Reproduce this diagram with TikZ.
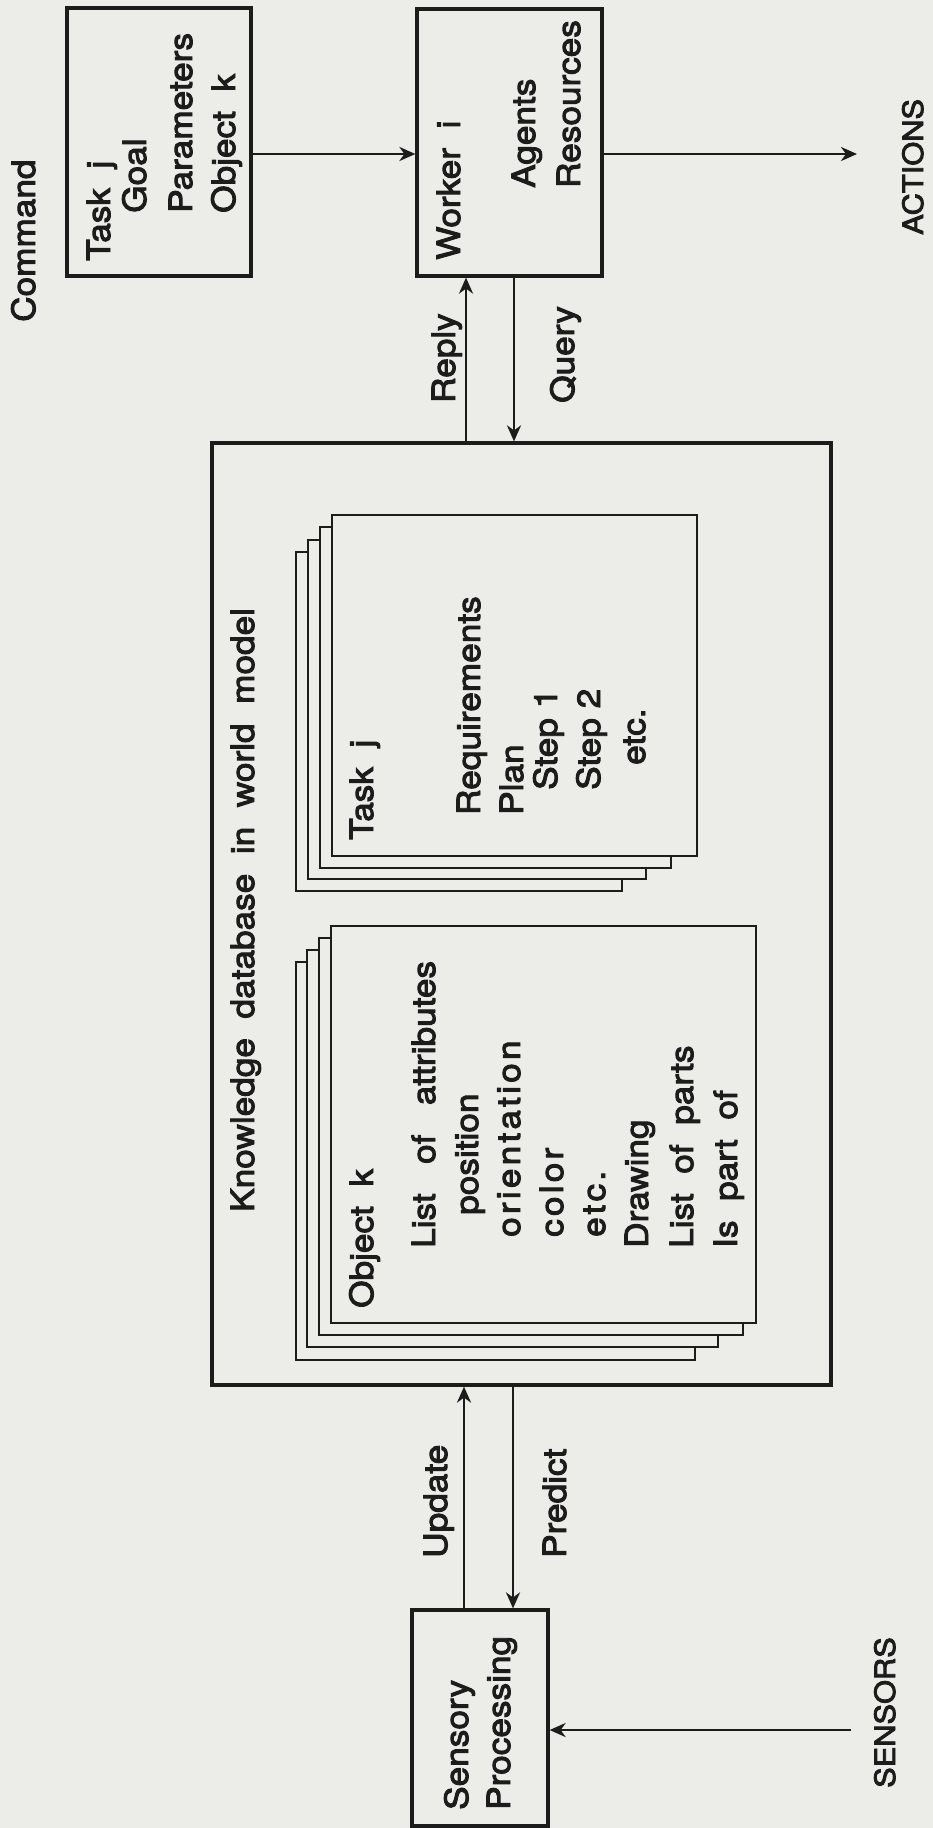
\documentclass[tikz,border=0pt]{standalone}
\usepackage{fontspec}
\setmainfont{TeX Gyre Heros}[FakeStretch=1.1, FakeBold=3]
\usepackage{tikz}
\usetikzlibrary{arrows.meta}
\definecolor{paper}{HTML}{ECECE9}
\definecolor{ink}{HTML}{1C1C1C}

\begin{document}
\begin{tikzpicture}[
  x=1pt, y=-1pt,
  box/.style={draw=ink, line width=3.2pt, fill=paper, inner sep=0pt},
  page/.style={draw=ink, line width=2.8pt, fill=paper},
  flow/.style={-{Stealth[length=16pt,width=14pt,inset=5pt]}, line width=2.6pt, draw=ink},
  txt/.style={rotate=90, anchor=base west, inner sep=0pt, text=ink, font=\fontsize{32}{38}\selectfont},
  spaced/.style={txt, font=\fontsize{32}{38}\selectfont\addfontfeature{LetterSpace=10}},
  capslab/.style={txt, font=\fontsize{28}{34}\selectfont}
]
\useasboundingbox (0,0) rectangle (933,1828);
\fill[paper] (0,0) rectangle (933,1828);

% boxes
\node[box, minimum width=184pt, minimum height=268pt] (task) at (159,142) {};
\node[box, minimum width=185pt, minimum height=267pt] (worker) at (509.5,142.5) {};
\node[box, minimum width=619pt, minimum height=942pt] (kb) at (521.5,914) {};
\node[box, minimum width=136pt, minimum height=216pt] (sensory) at (480,1718) {};

% stacked pages, back to front
\foreach \l/\t/\r/\b in {296/552/622/891, 308/540/646/879, 320/527/671/868, 332/515/697/856}
  \draw[page] (\l,\t) rectangle (\r,\b);
\foreach \l/\t/\r/\b in {296/962/695/1360, 307/950/718/1347, 319/938/743/1335, 331/926/756/1323}
  \draw[page] (\l,\t) rectangle (\r,\b);

% texts
\node[txt] (cmd) at (35,322) {Command};
\node[txt] (tk1) at (110,261) {Task~~j};
\node[txt] (tk2) at (146,213) {Goal};
\node[txt] (tk3) at (192,213) {Parameters};
\node[txt] (tk4) at (235,213) {Object~~k};

\node[txt] (wk1) at (460,260) {Worker~~i};
\node[txt] (wk2) at (535,188) {Agents};
\node[txt] (wk3) at (580,188) {Resources};
\node[capslab] (actions) at (923,235) {ACTIONS};

\node[txt] (reply) at (455,403) {Reply};
\node[txt] (query) at (574,403) {Query};

\node[txt] (kbtitle) at (254,1212) {Knowledge~~database~~in~~world~~model};

\node[txt] (tp1) at (373,840) {Task~~j};
\node[txt] (tp2) at (480,815) {Requirements};
\node[txt] (tp3) at (523,815) {Plan};
\node[txt] (tp4) at (557,790) {Step 1};
\node[txt] (tp5) at (600,790) {Step 2};
\node[txt] (tp6) at (645,765) {etc.};

\node[txt] (op1) at (373,1308) {Object~~k};
\node[txt] (op2) at (435,1248) {List~~~of~~~attributes};
\node[txt] (op3) at (478,1215) {position};
\node[spaced] (op4) at (520,1237) {orientation};
\node[spaced] (op5) at (563,1237) {color};
\node[spaced] (op6) at (605,1237) {etc.};
\node[txt] (op7) at (648,1248) {Drawing};
\node[txt] (op8) at (693,1248) {List~~of~~parts};
\node[txt] (op9) at (737,1248) {Is~~part~~of};

\node[txt] (update) at (447,1558) {Update};
\node[txt] (predict) at (566,1558) {Predict};

\node[txt] (sp1) at (468,1810) {Sensory};
\node[txt] (sp2) at (510,1810) {Processing};
\node[capslab] (sensors) at (895,1788) {SENSORS};

% connectors
\coordinate (actend) at (857,154);
\coordinate (sensend) at (851,1730);
\draw[flow] ([yshift=-12pt]task.east) -- ([yshift=-12pt]task.east -| worker.west);
\draw[flow] ([yshift=-11.5pt]worker.east) -- (actend);
\draw[flow] ([xshift=-43.5pt]worker.south |- kb.north) -- ([xshift=-43.5pt]worker.south);
\draw[flow] ([xshift=4.5pt]worker.south) -- ([xshift=4.5pt]worker.south |- kb.north);
\draw[flow] ([xshift=-16pt]sensory.north) -- ([xshift=-16pt]sensory.north |- kb.south);
\draw[flow] ([xshift=33pt]sensory.north |- kb.south) -- ([xshift=33pt]sensory.north);
\draw[flow] (sensend) -- (sensend -| sensory.east);
\end{tikzpicture}
\end{document}
